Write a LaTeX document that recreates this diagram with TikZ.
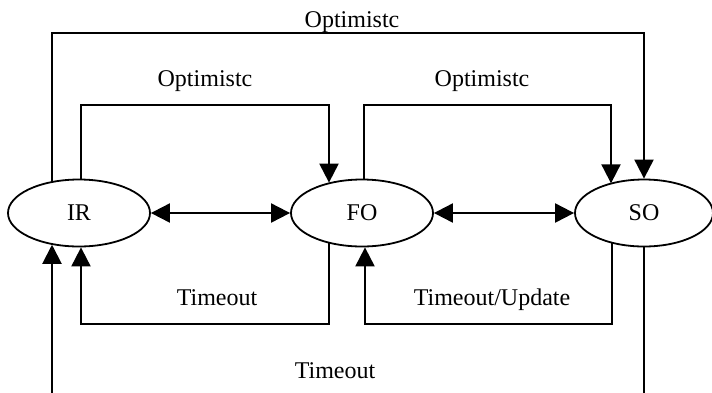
\documentclass[tikz,border=0pt]{standalone}
\usepackage{fontspec}
\setmainfont{Liberation Serif}
\usetikzlibrary{arrows.meta,shapes.geometric}
\begin{document}
\begin{tikzpicture}[x=1pt,y=-1pt,
  state/.style={ellipse, draw, line width=1.8pt, minimum width=142pt, minimum height=67pt, inner sep=0pt, font=\fontsize{24}{28}\selectfont},
  conn/.style={line width=2pt, -{Triangle[length=19pt,width=19pt]}},
  dbl/.style={line width=2pt, {Triangle[length=19pt,width=19pt]}-{Triangle[length=19pt,width=19pt]}},
  lbl/.style={anchor=base, inner sep=0pt, font=\fontsize{24}{28}\selectfont}]
\useasboundingbox (0,0) rectangle (712,392);
\clip (0,0) rectangle (712,392);
\fill[white] (0,0) rectangle (712,392);

\node[state] (IR) at (79,213) {IR};
\node[state] (FO) at (362,213) {FO};
\node[state, minimum width=138pt] (SO) at (644,213) {SO};

% horizontal double arrows
\draw[dbl] (IR) -- (FO);
\draw[dbl] (FO) -- (SO);

% top connectors
\draw[conn] (IR.131 -| 52,0) |- (SO.north |- 0,33) -- (SO.north);
\draw[conn] (IR.87 -| 81,0) |- (0,105 -| 329,0) -- (FO.138 -| 329,0);
\draw[conn] (FO.87 -| 364,0) |- (0,105 -| 611,0) -- (SO.140 -| 611,0);

% bottom connectors
\draw[conn] (FO.222 -| 329,0) |- (0,324 -| 81,0) -- (IR.273 -| 81,0);
\draw[conn] (SO.222 -| 612,0) |- (0,324 -| 365,0) -- (FO.275 -| 365,0);
\draw[conn] (SO.south) |- (0,400 -| 52,0) -- (IR.229 -| 52,0);

% labels
\node[lbl] (l1) at (352,27) {Optimistc};
\node[lbl] (l2) at (205,86) {Optimistc};
\node[lbl] (l3) at (482,86) {Optimistc};
\node[lbl] (l4) at (217,305) {Timeout};
\node[lbl] (l5) at (492,305) {Timeout/Update};
\node[lbl] (l6) at (335,378) {Timeout};
\end{tikzpicture}
\end{document}
